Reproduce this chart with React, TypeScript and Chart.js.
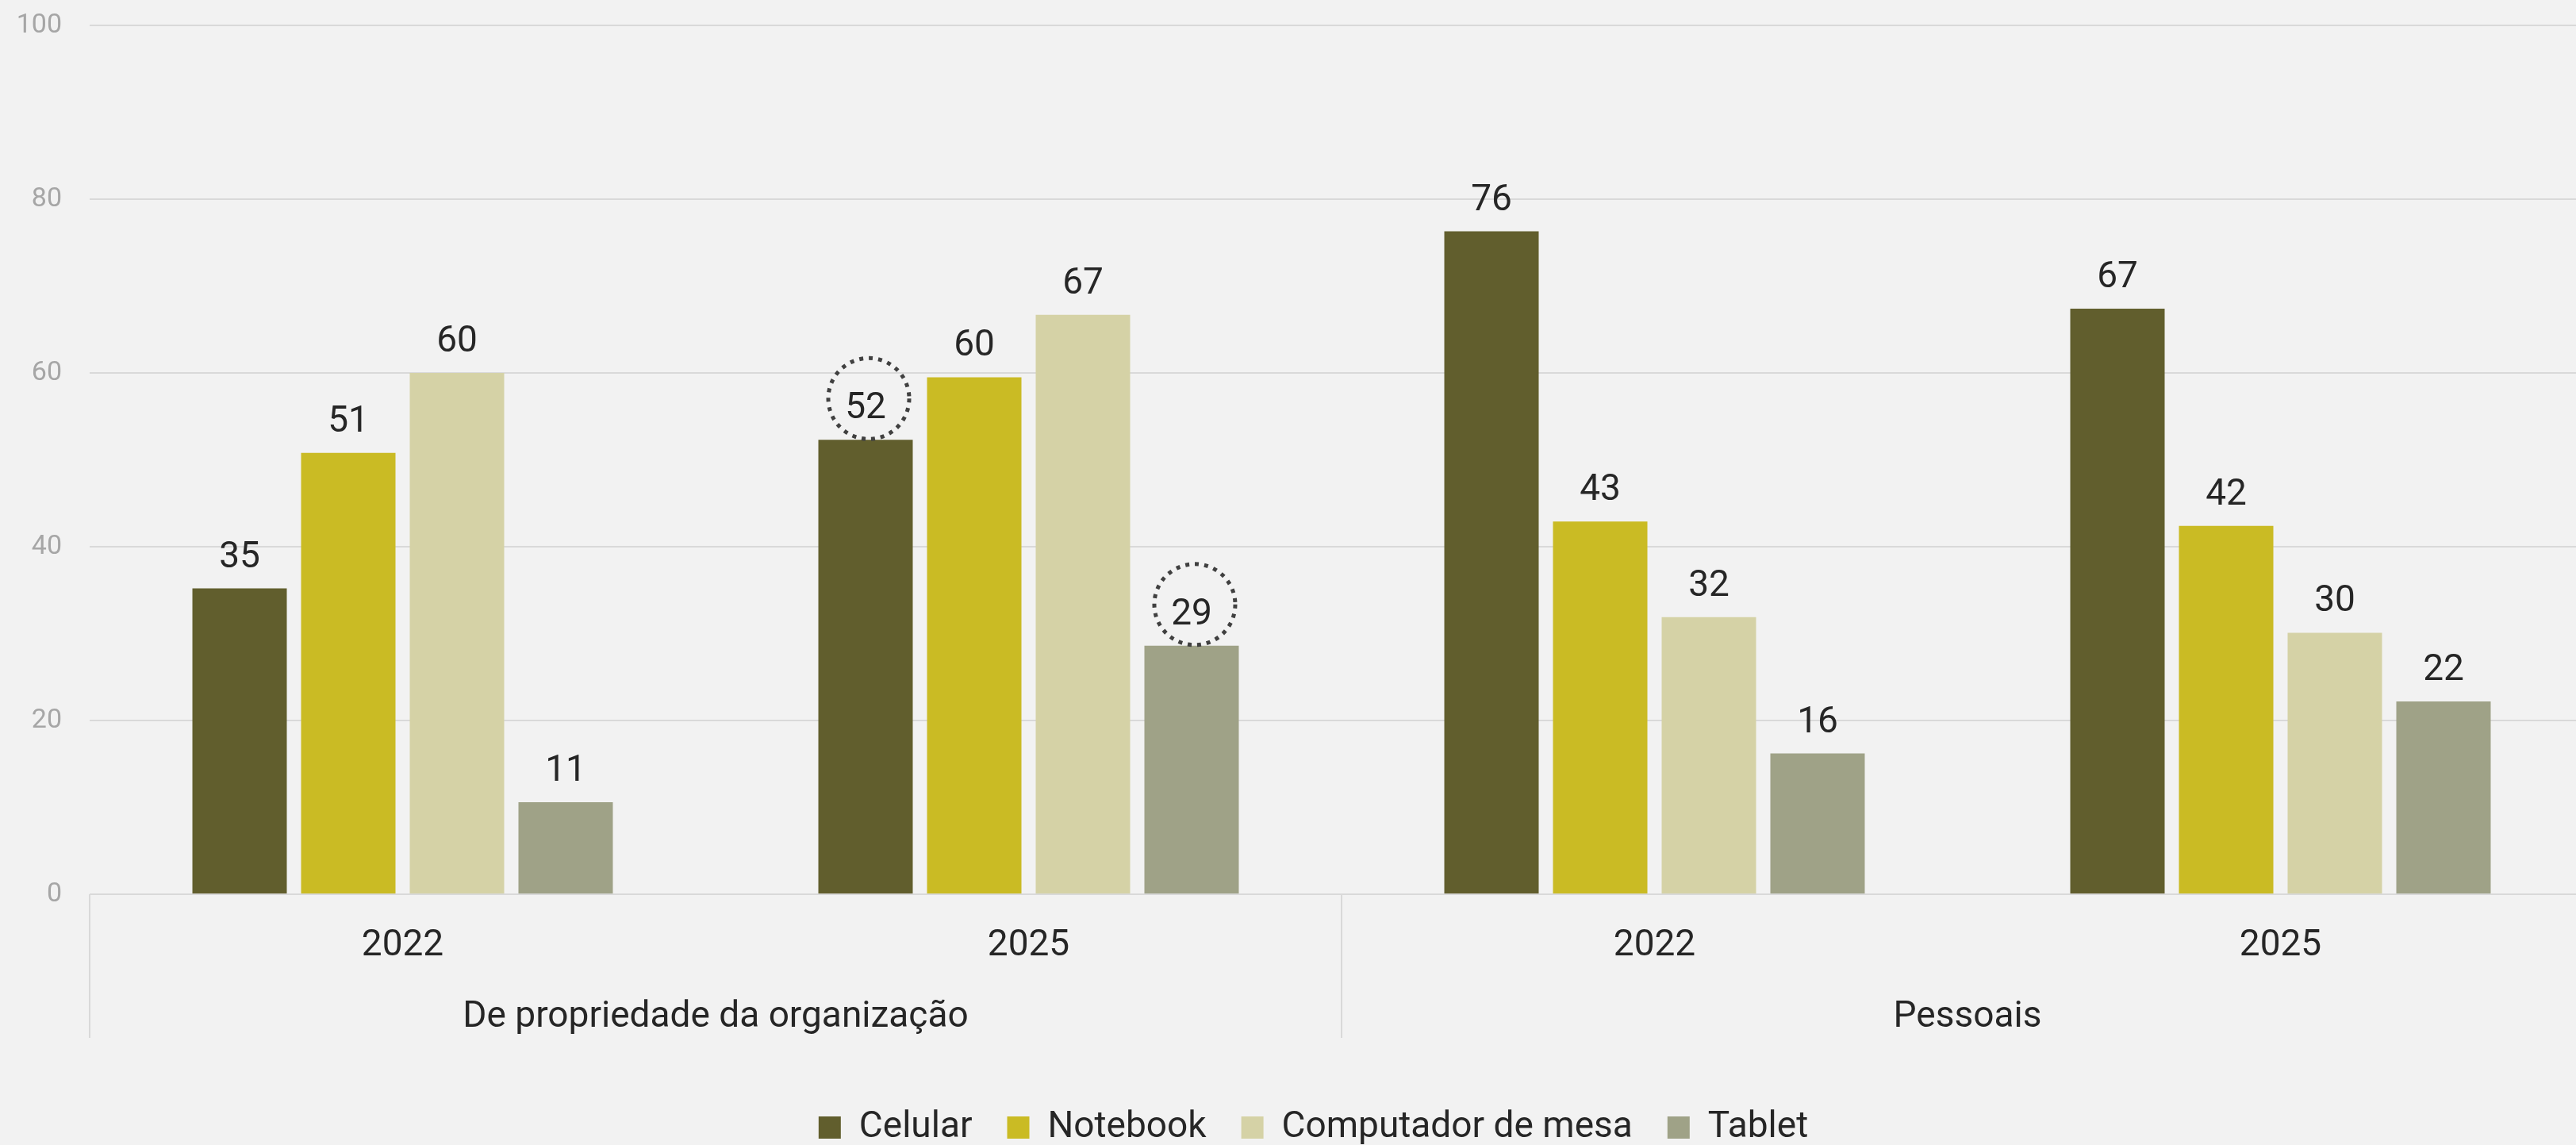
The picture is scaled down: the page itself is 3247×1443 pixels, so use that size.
import React, { useEffect, useRef } from 'react';
import { Chart, registerables } from 'chart.js';

Chart.register(...registerables);

// ---- data ----
const yearLabels = ['2022', '2025', '2022', '2025'];
const groupLabels = ['De propriedade da organização', 'Pessoais'];
const seriesNames = ['Celular', 'Notebook', 'Computador de mesa', 'Tablet'];
const celular = [35.2, 52.3, 76.3, 67.4];
const notebook = [50.8, 59.5, 42.9, 42.4];
const computador = [60.0, 66.7, 31.9, 30.1];
const tablet = [10.6, 28.6, 16.2, 22.2];
const seriesColors = ['#615e2d', '#cabb24', '#d5d2a6', '#9fa287'];
const yTicks = [0, 20, 40, 60, 80, 100];
// [datasetIndex, categoryIndex] of circled labels
const highlighted = [
  [0, 1],
  [3, 1],
];

const TEXT = '#262626';
const GRID = '#d9d9d9';

const valueLabels = {
  id: 'valueLabels',
  afterDatasetsDraw(chart: any) {
    const ctx = chart.ctx;
    ctx.save();
    ctx.font = '46px Roboto';
    ctx.fillStyle = TEXT;
    ctx.textAlign = 'center';
    ctx.textBaseline = 'alphabetic';
    chart.data.datasets.forEach((ds: any, di: number) => {
      const meta = chart.getDatasetMeta(di);
      meta.data.forEach((el: any, i: number) => {
        ctx.fillText(String(Math.round(ds.data[i])), el.x, el.y - 27);
      });
    });
    ctx.setLineDash([5, 7]);
    ctx.lineWidth = 5;
    ctx.strokeStyle = '#404040';
    highlighted.forEach(([di, i]) => {
      const el = chart.getDatasetMeta(di).data[i];
      if (!el) return;
      ctx.beginPath();
      ctx.arc(el.x + 4, el.y - 52, 51, 0, Math.PI * 2);
      ctx.stroke();
    });
    ctx.restore();
  },
};

// keeps the legend box at a fixed height and nudges it
const legendBox = {
  id: 'legendBox',
  beforeLayout(chart: any) {
    const lg = chart.legend;
    if (lg && !lg.__fixed) {
      const f = lg.fit.bind(lg);
      lg.fit = function () {
        f();
        this.height = 106;
      };
      lg.__fixed = true;
    }
  },
  afterLayout(chart: any) {
    const lg = chart.legend;
    if (lg) {
      lg.left += 21;
      lg.right += 21;
      lg.top += 6;
      lg.bottom += 6;
    }
  },
};

export default function App() {
  const ref = useRef<HTMLCanvasElement | null>(null);

  useEffect(() => {
    if (!ref.current) return;
    Chart.defaults.font.family = 'Roboto';
    const seriesValues = [celular, notebook, computador, tablet];
    const chart = new Chart(ref.current, {
      type: 'bar',
      data: {
        labels: yearLabels,
        datasets: seriesNames.map((name, k) => ({
          label: name,
          data: seriesValues[k],
          backgroundColor: seriesColors[k],
          borderWidth: 0,
          categoryPercentage: 0.6945,
          barPercentage: 0.8686,
        })),
      },
      options: {
        responsive: false,
        animation: false,
        layout: { padding: { top: 32, right: 41, left: 0, bottom: 0 } },
        plugins: {
          tooltip: { enabled: false },
          legend: {
            display: true,
            position: 'bottom',
            labels: {
              boxWidth: 28,
              boxHeight: 28,
              padding: 44,
              color: TEXT,
              font: { size: 46 },
            },
          },
        },
        scales: {
          y: {
            min: 0,
            max: 100,
            afterBuildTicks: (s: any) => {
              s.ticks = yTicks.map((v) => ({ value: v }));
            },
            afterFit: (s: any) => {
              s.width = 113;
              s.paddingTop = 0;
              s.paddingBottom = 0;
            },
            grid: { color: GRID, lineWidth: 2, drawTicks: false },
            border: { display: false },
            ticks: { padding: 35, color: '#a6a6a6', font: { size: 34 } },
          },
          x: {
            type: 'category',
            labels: yearLabels,
            offset: true,
            weight: 0,
            afterFit: (s: any) => {
              s.height = 88;
            },
            grid: {
              display: true,
              offset: true,
              drawOnChartArea: false,
              drawTicks: true,
              tickLength: 181,
              lineWidth: 2,
              color: (c: any) => (c.index === 1 || c.index === 3 ? 'rgba(0,0,0,0)' : GRID),
            },
            border: { display: false },
            ticks: { padding: -143, color: TEXT, font: { size: 46 }, autoSkip: false, maxRotation: 0 },
          },
          x2: {
            type: 'category',
            labels: groupLabels,
            position: 'bottom',
            offset: true,
            weight: 1,
            afterFit: (s: any) => {
              s.height = 133;
            },
            grid: { display: false, drawTicks: false },
            border: { display: false },
            ticks: { padding: 40, color: TEXT, font: { size: 46 }, autoSkip: false, maxRotation: 0 },
          },
        },
      } as any,
      plugins: [valueLabels, legendBox],
    });
    return () => chart.destroy();
  }, []);

  return (
    <div
      style={{
        position: 'fixed',
        left: 0,
        top: 0,
        width: 3247,
        height: 1443,
        overflow: 'hidden',
        background: '#f2f2f2',
      }}
    >
      <canvas ref={ref} width={3310} height={1454} style={{ display: 'block', width: 3310, height: 1454 }} />
    </div>
  );
}
